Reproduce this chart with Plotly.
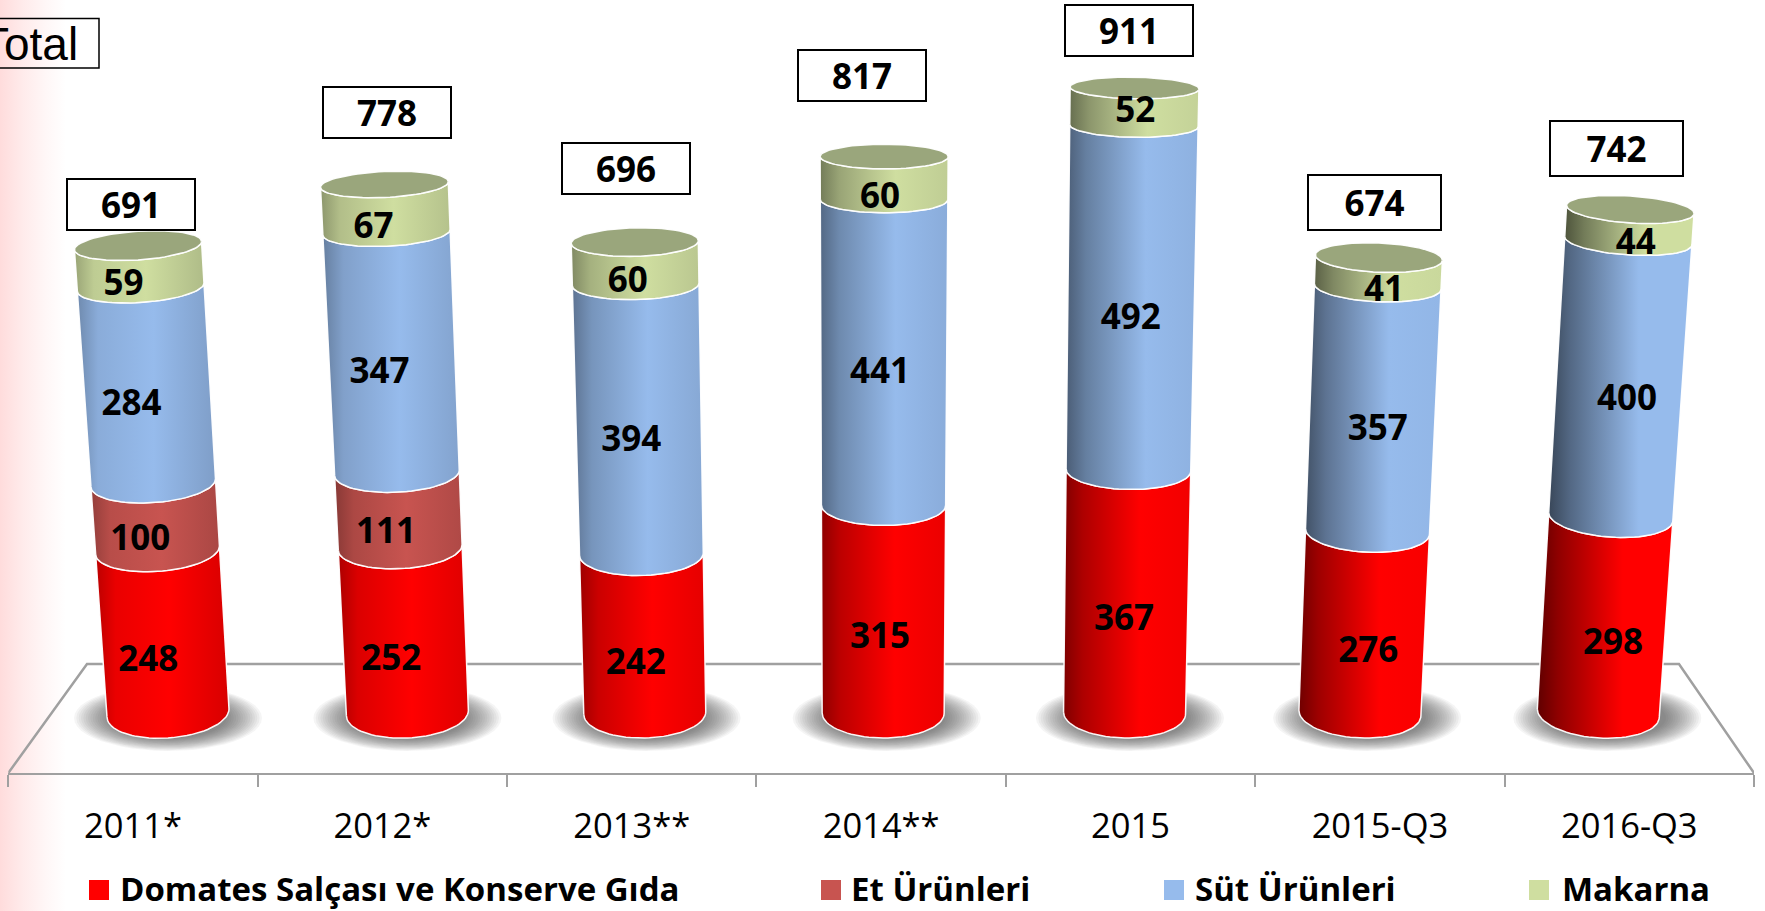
import math
import plotly.graph_objects as go

# ---- data ----
categories = ["2011*", "2012*", "2013**", "2014**", "2015", "2015-Q3", "2016-Q3"]
domates = [248, 252, 242, 315, 367, 276, 298]
et = [100, 111, 0, 0, 0, 0, 0]
sut = [284, 347, 394, 441, 492, 357, 400]
makarna = [59, 67, 60, 60, 52, 41, 44]
totals = [691, 778, 696, 817, 911, 674, 742]
series_names = ["Domates Salçası ve Konserve Gıda", "Et Ürünleri", "Süt Ürünleri", "Makarna"]
series_values = [domates, et, sut, makarna]

# ---- style / geometry ----
W, H = 1765, 911
BASE_COLORS = [(255, 0, 0), (200, 84, 80), (150, 187, 236), (207, 222, 160)]
CAP = "#9aa67c"
GRID = "#a0a0a0"
X0, X1 = 8.3, 1754.0
AXIS_Y, BASE_Y = 773, 713
UNIT = (X1 - X0) / 7
BOTTOM_OFF = [35, 25, 13, 2, -6, -20, -31]
TOP_OFF = [5, 2, 3, 3, 4, -1, 1]
LABEL_X0 = [154, 395, 637.6, 880, 1121, 1364, 1607]
LABEL_XS = [-.046, -.029, -.0146, 0, .016, .0305, .04]
BOX_X = [131, 387, 626, 862, 1128.5, 1374, 1616]
BOX_Y = [204, 112, 168, 75.5, 30, 202, 148]
BOX_W = [126, 126, 126, 126, 126, 131, 131]
BOX_H = [49, 49, 49, 49, 49, 53, 53]
LEGEND_MARK = [99, 831, 1174, 1539]
LEGEND_TEXT = [118, 849, 1193, 1560]
FONT = "Open Sans"


def h_of(v):
    return .646 * v + 4.4e-5 * v * v


def tick_px(i):
    return X0 + UNIT * (i + .5)


def to_x(px):
    return (px - X0) / UNIT - .5


def ring(i, v, t_from, t_to, n=40):
    """Points of the ring of column i at stacked value v; angle in radians."""
    top_h = h_of(totals[i])
    bottom_px = tick_px(i) + BOTTOM_OFF[i]
    top_px = tick_px(i) + TOP_OFF[i]
    lean = (top_px - bottom_px) / top_h
    h = h_of(v)
    cx = bottom_px + lean * h
    a = 61 + 2.5 * h / 460
    b = max(25 - 10.5 * h / 460, 9)
    xs, ys = [], []
    for k in range(n + 1):
        t = t_from + (t_to - t_from) * k / n
        dx, dy = a * math.cos(t), b * math.sin(t)
        xs.append(to_x(cx + dx))
        ys.append(h + dy - dx * lean)
    return xs, ys


def shade(rgb, f):
    return "rgb(%d,%d,%d)" % tuple(min(255, int(c * f)) for c in rgb)


fig = go.Figure()

# ---- page background: faint red band on the left (pixel-space subplot) ----
fig.add_trace(go.Scatter(
    x=[0, 66, 66, 0, 0], y=[0, 0, H, H, 0], mode="lines", fill="toself",
    line=dict(width=0), hoverinfo="skip", showlegend=False,
    fillgradient=dict(type="horizontal", colorscale=[
        [0, "#ffdcdc"], [.35, "#ffebeb"], [.7, "#fff7f7"], [1, "#ffffff"]]),
    xaxis="x", yaxis="y"))

# ---- floor ----
fig.add_trace(go.Scatter(
    x=[to_x(X0), to_x(87), to_x(1679), to_x(X1)], y=[-60, 49, 49, -60],
    mode="lines", line=dict(color=GRID, width=2.5), hoverinfo="skip",
    showlegend=False, xaxis="x2", yaxis="y2"))

# ---- shadows ----
for i in range(len(categories)):
    cx = tick_px(i) + BOTTOM_OFF[i] + (-0.0 if i < 2 else (i - 1) * 1.8)
    for s in range(16):
        f = 1 - s / 16
        ax, bx = 94 * (0.6 + .4 * f), 33 * (0.6 + .4 * f)
        ts = [2 * math.pi * k / 48 for k in range(49)]
        fig.add_trace(go.Scatter(
            x=[to_x(cx + ax * math.cos(t)) for t in ts],
            y=[-5 + bx * math.sin(t) for t in ts],
            mode="lines", fill="toself", line=dict(width=0),
            fillcolor="rgba(60,60,60,0.05)", hoverinfo="skip",
            showlegend=False, xaxis="x2", yaxis="y2"))

# ---- cylinders ----
for i in range(len(categories)):
    prog = i / 6
    fl, fr = .84 - .36 * prog, .85 + .15 * prog
    stack = 0
    for s, vals in enumerate(series_values):
        v = vals[i]
        if not v:
            continue
        bx, by = ring(i, stack, math.pi, 2 * math.pi)   # front arc, left to right
        tx, ty = ring(i, stack + v, 2 * math.pi, math.pi)  # front arc, right to left
        base = BASE_COLORS[s]
        fig.add_trace(go.Scatter(
            x=bx + tx + bx[:1], y=by + ty + by[:1], mode="lines", fill="toself",
            line=dict(color="rgba(255,255,255,0.95)", width=1.5),
            fillgradient=dict(type="horizontal", colorscale=[
                [0, shade(base, fl - .1)], [.15, shade(base, fl + .08)],
                [.55 + .08 * prog, shade(base, 1)], [1, shade(base, fr)]]),
            hoverinfo="skip", showlegend=False, xaxis="x2", yaxis="y2"))
        stack += v
    cx_, cy_ = ring(i, stack, 0, 2 * math.pi, 72)
    fig.add_trace(go.Scatter(
        x=cx_, y=cy_, mode="lines", fill="toself", fillcolor=CAP,
        line=dict(color="rgba(255,255,255,0.95)", width=1.5),
        hoverinfo="skip", showlegend=False, xaxis="x2", yaxis="y2"))

# ---- value labels ----
lx, ly, lt = [], [], []
for i in range(len(categories)):
    stack = 0
    for vals in series_values:
        v = vals[i]
        if not v:
            continue
        mid = stack + v / 2
        lx.append(to_x(LABEL_X0[i] + LABEL_XS[i] * mid))
        ly.append(BASE_Y - (749.5 - .70 * mid - max(0, mid - 800) * .2))
        lt.append(str(v))
        stack += v
fig.add_trace(go.Scatter(
    x=lx, y=ly, text=lt, mode="text", textposition="middle center",
    textfont=dict(family=FONT, size=35, color="black", weight="bold"),
    cliponaxis=False, hoverinfo="skip", showlegend=False, xaxis="x2", yaxis="y2"))

# ---- legend ----
fig.add_trace(go.Scatter(
    x=LEGEND_MARK, y=[890] * 4, mode="markers",
    marker=dict(symbol="square", size=20, color=[shade(c, 1) for c in BASE_COLORS], line=dict(width=0)),
    hoverinfo="skip", showlegend=False, xaxis="x", yaxis="y"))

annotations = []
for name, x in zip(series_names, LEGEND_TEXT):
    annotations.append(dict(
        text=name, x=x, y=888, xref="x", yref="y", xanchor="left", yanchor="middle",
        showarrow=False, font=dict(family=FONT, size=33, color="black", weight="bold")))

# ---- total boxes ----
for i, t in enumerate(totals):
    annotations.append(dict(
        text="<b>%d</b>" % t, x=BOX_X[i], y=BOX_Y[i], xref="x", yref="y",
        showarrow=False, width=BOX_W[i], height=BOX_H[i], bgcolor="white",
        bordercolor="black", borderwidth=2, borderpad=0, xanchor="center", yanchor="middle",
        align="center", valign="middle",
        font=dict(family=FONT, size=35, color="black")))

annotations.append(dict(
    text="Total", x=80, y=44, xref="x", yref="y", xanchor="right", yanchor="middle",
    showarrow=False, font=dict(family="Liberation Sans", size=46, color="black")))

shapes = [dict(type="rect", xref="x", yref="y", x0=-6, x1=99, y0=18.5, y1=68,
               line=dict(color="black", width=1.5), fillcolor="rgba(0,0,0,0)")]

fig.update_layout(
    width=W, height=H, autosize=False, margin=dict(l=0, r=0, t=0, b=0, pad=0),
    paper_bgcolor="white", plot_bgcolor="rgba(0,0,0,0)", showlegend=False,
    annotations=annotations, shapes=shapes,
    xaxis=dict(domain=[0, 1], range=[0, W], visible=False, fixedrange=True),
    yaxis=dict(domain=[0, 1], range=[H, 0], visible=False, fixedrange=True),
    xaxis2=dict(
        domain=[X0 / W, X1 / W], range=[-.5, 6.5], anchor="y2",
        tickmode="array", tickvals=list(range(7)), ticktext=categories,
        ticks="", showgrid=False, zeroline=False, showline=True,
        linecolor=GRID, linewidth=2, ticklabelstandoff=22,
        tickfont=dict(family=FONT, size=34.5, color="black"),
        minor=dict(tickmode="array", tickvals=[k - .5 for k in range(8)],
                   ticks="outside", ticklen=12, tickwidth=2, tickcolor=GRID, showgrid=False)),
    yaxis2=dict(domain=[(H - AXIS_Y) / H, 1], range=[-60, BASE_Y], anchor="x2",
                visible=False, fixedrange=True),
)

fig.write_html("out.html", config={"displayModeBar": False},
               post_script="document.body.style.margin='0';document.documentElement.style.overflow='hidden';")
